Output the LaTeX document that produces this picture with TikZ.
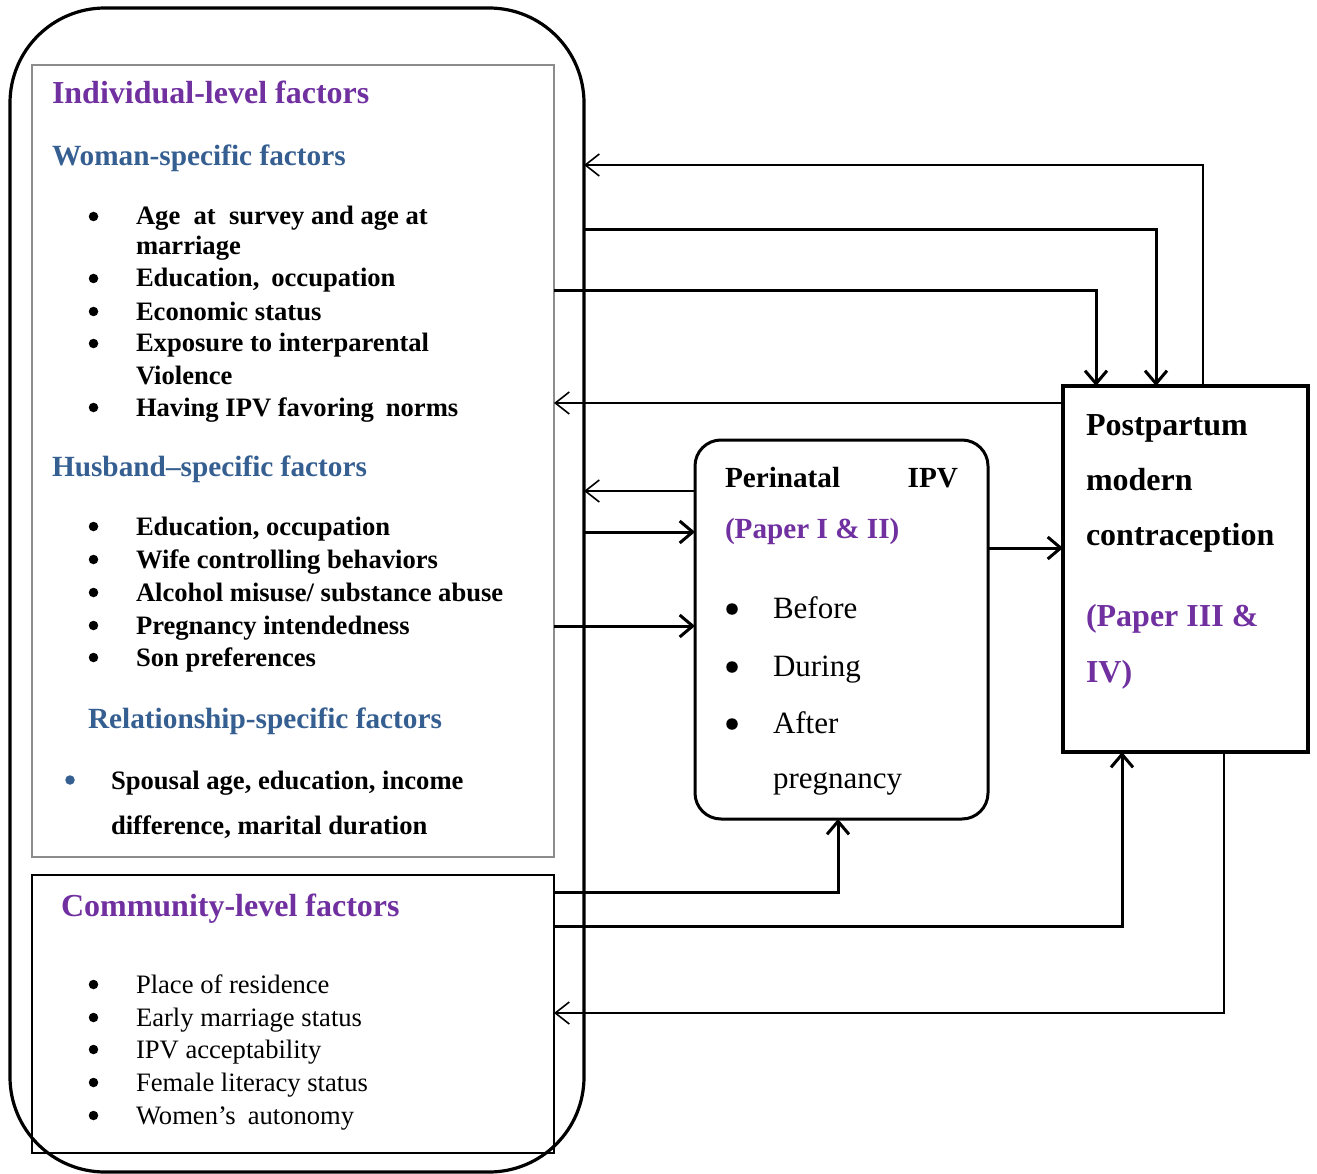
\documentclass[tikz,border=0pt]{standalone}
\usepackage{fontspec}
\setmainfont{Liberation Serif}
\usetikzlibrary{arrows.meta}
\definecolor{hpurple}{HTML}{7030A0}
\definecolor{hblue}{HTML}{365F91}
\begin{document}
\begin{tikzpicture}[x=1pt,y=-1pt,
  txt/.style={anchor=base west,inner sep=0pt,outer sep=0pt},
  head/.style={txt,font=\fontsize{32}{38}\selectfont\bfseries,text=hpurple},
  subhead/.style={txt,font=\fontsize{29.3}{35}\selectfont\bfseries,text=hblue},
  bitem/.style={txt,font=\fontsize{26.6}{32}\selectfont\bfseries},
  ritem/.style={txt,font=\fontsize{26.6}{32}\selectfont},
  pbold/.style={txt,font=\fontsize{29.2}{35}\selectfont\bfseries},
  preg/.style={txt,font=\fontsize{31}{37}\selectfont},
  qbold/.style={txt,font=\fontsize{32}{38}\selectfont\bfseries},
  bul/.style={circle,fill,draw=none,inner sep=0pt,outer sep=0pt,minimum size=9.5pt},
  bigbul/.style={bul,minimum size=11.5pt},
  box/.style={draw,inner sep=0pt,outer sep=0pt,rectangle},
  thickarr/.style={line width=3pt,-{Straight Barb[length=13pt,width=22pt]}},
  thinarr/.style={line width=1.6pt,-{Straight Barb[length=14pt,width=22pt]}},
]
\useasboundingbox (0,0) rectangle (1317,1174);
% boxes
\node[box,line width=3.2pt,rounded corners=95pt,minimum width=574pt,minimum height=1164pt] (outer) at (297,590) {};
\node[box,draw=black!45,line width=1.2pt,minimum width=522pt,minimum height=792pt] (indiv) at (293,461) {};
\node[box,line width=1.6pt,minimum width=522pt,minimum height=278pt] (comm) at (293,1014) {};
\node[box,line width=3pt,rounded corners=26pt,minimum width=293pt,minimum height=379pt] (peri) at (841.5,629.5) {};
\node[box,line width=3.5pt,minimum width=245pt,minimum height=366pt] (post) at (1185.5,569) {};

% individual-level text
\node[head] (h1) at (52,104) {Individual-level factors};
\node[subhead] (s1) at (52,166) {Woman-specific factors};
\foreach \y/\n in {225/a,287/b,320/c,352/d,416/e}{\node[bul] (wb\n) at (93.5,\y-8.5) {};}
\node[bitem] (w1) at (136,225) {Age\hspace{0.5em}at\hspace{0.5em}survey and age at};
\node[bitem] (w1b) at (136,255) {marriage};
\node[bitem] (w2) at (136,287) {Education,\hspace{0.45em}occupation};
\node[bitem] (w3) at (136,320) {Economic status};
\node[bitem] (w4) at (136,352) {Exposure to interparental};
\node[bitem] (w4b) at (136,384) {Violence};
\node[bitem] (w5) at (136,416) {Having IPV favoring\hspace{0.45em}norms};
\node[subhead] (s2) at (52,476) {Husband–specific factors};
\foreach \y/\n in {535/a,568/b,601/c,634/d,666/e}{\node[bul] (hb\n) at (93.5,\y-8.5) {};}
\node[bitem] (u1) at (136,535) {Education, occupation};
\node[bitem] (u2) at (136,568) {Wife controlling behaviors};
\node[bitem] (u3) at (136,601) {Alcohol misuse/ substance abuse};
\node[bitem] (u4) at (136,634) {Pregnancy intendedness};
\node[bitem] (u5) at (136,666) {Son preferences};
\node[subhead] (s3) at (88,728) {Relationship-specific factors};
\node[bul,fill=hblue] (rb) at (70,780) {};
\node[bitem] (r1) at (111,789) {Spousal age, education, income};
\node[bitem] (r1b) at (111,834) {difference, marital duration};

% community-level text
\node[head] (h2) at (61,916) {Community-level factors};
\foreach \y/\n in {993/a,1026/b,1058/c,1091/d,1124/e}{\node[bul] (cb\n) at (93.5,\y-8.5) {};}
\node[ritem] (c1) at (136,993) {Place of residence};
\node[ritem] (c2) at (136,1026) {Early marriage status};
\node[ritem] (c3) at (136,1058) {IPV acceptability};
\node[ritem] (c4) at (136,1091) {Female literacy status};
\node[ritem] (c5) at (136,1124) {Women’s\hspace{0.45em}autonomy};

% perinatal text
\node[pbold] (p1) at (725,487) {Perinatal};
\node[pbold,anchor=base east] (p1b) at (958,487) {IPV};
\node[pbold,text=hpurple] (p2) at (725,538) {(Paper I \& II)};
\foreach \y/\n in {618/a,676/b,733/c}{\node[bigbul] (pb\n) at (732,\y-9) {};}
\node[preg] (p3) at (773,618) {Before};
\node[preg] (p4) at (773,676) {During};
\node[preg] (p5) at (773,733) {After};
\node[preg] (p6) at (773,788) {pregnancy};

% postpartum text
\node[qbold] (q1) at (1086,435) {Postpartum};
\node[qbold] (q2) at (1086,490) {modern};
\node[qbold] (q3) at (1086,545) {contraception};
\node[qbold,text=hpurple] (q4) at (1086,626) {(Paper III \&};
\node[qbold,text=hpurple] (q5) at (1086,682) {IV)};

% connectors
\draw[thinarr] (post.north -| 1203,0) |- (outer.east |- 0,165);
\draw[thickarr] (outer.east |- 0,230) -| (post.north -| 1156,0);
\draw[thickarr] (indiv.east |- 0,291) -| (post.north -| 1096,0);
\draw[thinarr] (post.west |- 0,403) -- (indiv.east |- 0,403);
\draw[thinarr] (peri.west |- 0,491) -- (outer.east |- 0,491);
\draw[thickarr] (outer.east |- 0,532) -- (peri.west |- 0,532);
\draw[thickarr] (indiv.east |- 0,626) -- (peri.west |- 0,626);
\draw[thickarr] (peri.east |- 0,548) -- (post.west |- 0,548);
\draw[thickarr] (comm.east |- 0,892) -| (peri.south -| 838,0);
\draw[thickarr] (comm.east |- 0,926) -| (post.south -| 1122,0);
\draw[thinarr] (post.south -| 1224,0) |- (comm.east |- 0,1013);
\end{tikzpicture}
\end{document}
